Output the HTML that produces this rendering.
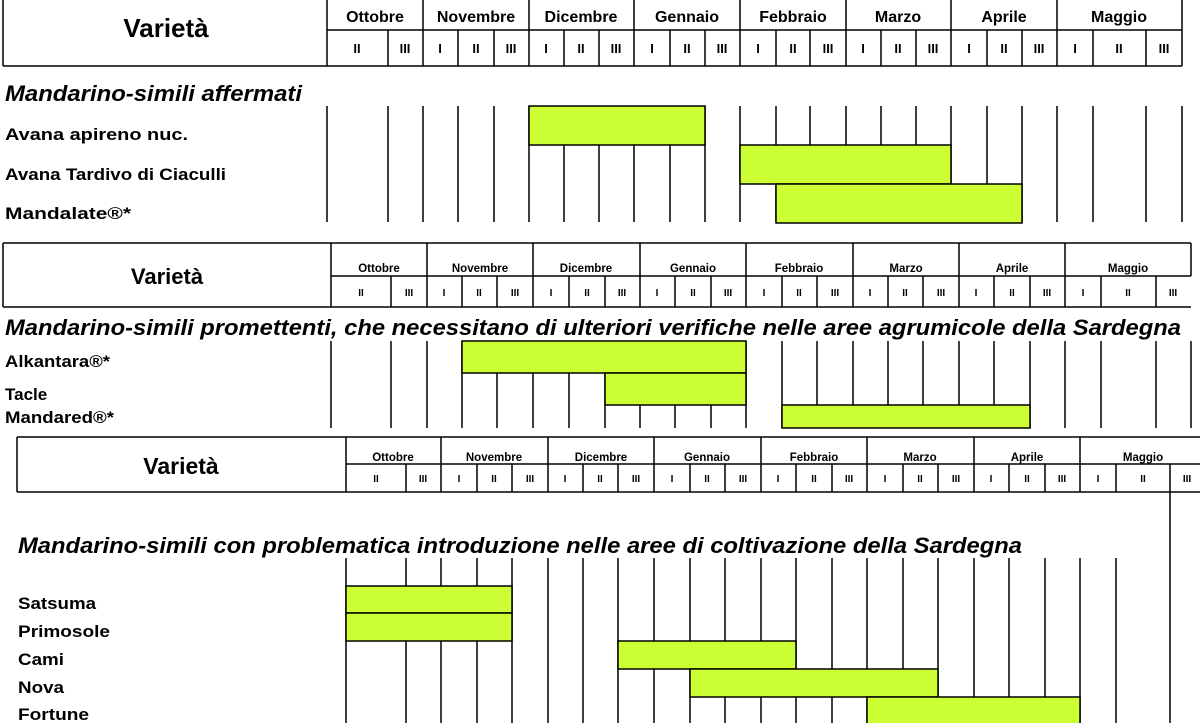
<!DOCTYPE html>
<html><head><meta charset="utf-8"><style>
html,body{margin:0;padding:0;background:#fff;width:1200px;height:723px;overflow:hidden}
svg{display:block;font-family:"Liberation Sans",Arial,sans-serif;font-weight:bold}
.m1{font-size:16px}.d1{font-size:13px}.m2{font-size:11.5px}.d2{font-size:10px}
.t{font-style:italic;font-size:22.5px}.l1{font-size:17px}.l{font-size:17px}
</style></head><body>
<svg width="1200" height="723" viewBox="0 0 1200 723" xmlns="http://www.w3.org/2000/svg">
<g stroke="#000" stroke-width="1.5" fill="none">
<path d="M3 0V66M3 66H1182M327 0V66M327 30H1182M1182 0V66
M423 0V66M529 0V66M634 0V66M740 0V66M846 0V66M951 0V66M1057 0V66
M388 30V66M458 30V66M494 30V66M564 30V66M599 30V66M670 30V66M705 30V66M776 30V66M810 30V66M881 30V66M916 30V66M987 30V66M1022 30V66M1093 30V66M1146 30V66"/>
<path d="M327 106V222M388 106V222M423 106V222M458 106V222M494 106V222M529 106V222M564 106V222M599 106V222M634 106V222M670 106V222M705 106V222M740 106V222M776 106V222M810 106V222M846 106V222M881 106V222M916 106V222M951 106V222M987 106V222M1022 106V222M1057 106V222M1093 106V222M1146 106V222M1182 106V222"/>
<path d="M3 243H1191M3 243V307M3 307H1191M331 243V307M331 276H1191M1191 243V276
M427 243V307M533 243V307M640 243V307M746 243V307M853 243V307M959 243V307M1065 243V307
M391 276V307M462 276V307M497 276V307M569 276V307M605 276V307M675 276V307M711 276V307M782 276V307M817 276V307M888 276V307M923 276V307M994 276V307M1030 276V307M1101 276V307M1156 276V307"/>
<path d="M331 341V428M391 341V428M427 341V428M462 341V428M497 341V428M533 341V428M569 341V428M605 341V428M640 341V428M675 341V428M711 341V428M746 341V428M782 341V428M817 341V428M853 341V428M888 341V428M923 341V428M959 341V428M994 341V428M1030 341V428M1065 341V428M1101 341V428M1156 341V428M1191 341V428"/>
<path d="M17 437H1200M17 437V492M17 492H1200M346 437V492M346 464H1200
M441 437V492M548 437V492M654 437V492M761 437V492M867 437V492M974 437V492M1080 437V492
M406 464V492M477 464V492M512 464V492M583 464V492M618 464V492M690 464V492M725 464V492M796 464V492M832 464V492M903 464V492M938 464V492M1009 464V492M1045 464V492M1116 464V492M1170 464V723"/>
<path d="M346 558V723M406 558V723M441 558V723M477 558V723M512 558V723M548 558V723M583 558V723M618 558V723M654 558V723M690 558V723M725 558V723M761 558V723M796 558V723M832 558V723M867 558V723M903 558V723M938 558V723M974 558V723M1009 558V723M1045 558V723M1080 558V723M1116 558V723"/>
</g>
<g fill="#ccff33" stroke="#000" stroke-width="1.5">
<rect x="529" y="106" width="176" height="39"/>
<rect x="740" y="145" width="211" height="39"/>
<rect x="776" y="184" width="246" height="39"/>
<rect x="462" y="341" width="284" height="32"/>
<rect x="605" y="373" width="141" height="32"/>
<rect x="782" y="405" width="248" height="23"/>
<rect x="346" y="586" width="166" height="27"/>
<rect x="346" y="613" width="166" height="28"/>
<rect x="618" y="641" width="178" height="28"/>
<rect x="690" y="669" width="248" height="28"/>
<rect x="867" y="697" width="213" height="30"/>
</g>
<text x="166" y="37" font-size="26" text-anchor="middle">Varietà</text>
<g class="m1" text-anchor="middle">
<text x="375" y="22">Ottobre</text><text x="476" y="22">Novembre</text><text x="581" y="22">Dicembre</text><text x="687" y="22">Gennaio</text><text x="793" y="22">Febbraio</text><text x="898" y="22">Marzo</text><text x="1004" y="22">Aprile</text><text x="1119" y="22">Maggio</text>
</g>
<g class="d1" text-anchor="middle">
<text x="357" y="53">II</text><text x="405" y="53">III</text><text x="440" y="53">I</text><text x="476" y="53">II</text><text x="511" y="53">III</text><text x="546" y="53">I</text><text x="581" y="53">II</text><text x="616" y="53">III</text><text x="652" y="53">I</text><text x="687" y="53">II</text><text x="722" y="53">III</text><text x="758" y="53">I</text><text x="793" y="53">II</text><text x="828" y="53">III</text><text x="863" y="53">I</text><text x="898" y="53">II</text><text x="933" y="53">III</text><text x="969" y="53">I</text><text x="1004" y="53">II</text><text x="1039" y="53">III</text><text x="1075" y="53">I</text><text x="1119" y="53">II</text><text x="1164" y="53">III</text>
</g>
<text class="t" x="5" y="101" textLength="297" lengthAdjust="spacingAndGlyphs">Mandarino-simili affermati</text>
<g class="l1">
<text x="5" y="140" textLength="183" lengthAdjust="spacingAndGlyphs">Avana apireno nuc.</text>
<text x="5" y="180" textLength="221" lengthAdjust="spacingAndGlyphs">Avana Tardivo di Ciaculli</text>
<text x="5" y="219" textLength="126" lengthAdjust="spacingAndGlyphs">Mandalate®*</text>
</g>
<text x="167" y="284" font-size="22" text-anchor="middle">Varietà</text>
<g class="m2" text-anchor="middle">
<text x="379" y="272">Ottobre</text><text x="480" y="272">Novembre</text><text x="586" y="272">Dicembre</text><text x="693" y="272">Gennaio</text><text x="799" y="272">Febbraio</text><text x="906" y="272">Marzo</text><text x="1012" y="272">Aprile</text><text x="1128" y="272">Maggio</text>
</g>
<g class="d2" text-anchor="middle">
<text x="361" y="296">II</text><text x="409" y="296">III</text><text x="444" y="296">I</text><text x="479" y="296">II</text><text x="515" y="296">III</text><text x="551" y="296">I</text><text x="587" y="296">II</text><text x="622" y="296">III</text><text x="657" y="296">I</text><text x="693" y="296">II</text><text x="728" y="296">III</text><text x="764" y="296">I</text><text x="799" y="296">II</text><text x="835" y="296">III</text><text x="870" y="296">I</text><text x="905" y="296">II</text><text x="941" y="296">III</text><text x="976" y="296">I</text><text x="1012" y="296">II</text><text x="1047" y="296">III</text><text x="1083" y="296">I</text><text x="1128" y="296">II</text><text x="1173" y="296">III</text>
</g>
<text class="t" x="5" y="335" textLength="1176" lengthAdjust="spacingAndGlyphs">Mandarino-simili promettenti, che necessitano di ulteriori verifiche nelle aree agrumicole della Sardegna</text>
<g class="l">
<text x="5" y="367" textLength="105" lengthAdjust="spacingAndGlyphs">Alkantara®*</text>
<text x="5" y="400">Tacle</text>
<text x="5" y="423" textLength="109" lengthAdjust="spacingAndGlyphs">Mandared®*</text>
</g>
<text x="181" y="474" font-size="23" text-anchor="middle">Varietà</text>
<g class="m2" text-anchor="middle">
<text x="393" y="461">Ottobre</text><text x="494" y="461">Novembre</text><text x="601" y="461">Dicembre</text><text x="707" y="461">Gennaio</text><text x="814" y="461">Febbraio</text><text x="920" y="461">Marzo</text><text x="1027" y="461">Aprile</text><text x="1143" y="461">Maggio</text>
</g>
<g class="d2" text-anchor="middle">
<text x="376" y="482">II</text><text x="423" y="482">III</text><text x="459" y="482">I</text><text x="494" y="482">II</text><text x="530" y="482">III</text><text x="565" y="482">I</text><text x="600" y="482">II</text><text x="636" y="482">III</text><text x="672" y="482">I</text><text x="707" y="482">II</text><text x="743" y="482">III</text><text x="778" y="482">I</text><text x="814" y="482">II</text><text x="849" y="482">III</text><text x="885" y="482">I</text><text x="920" y="482">II</text><text x="956" y="482">III</text><text x="991" y="482">I</text><text x="1027" y="482">II</text><text x="1062" y="482">III</text><text x="1098" y="482">I</text><text x="1143" y="482">II</text><text x="1187" y="482">III</text>
</g>
<text class="t" x="18" y="553" textLength="1004" lengthAdjust="spacingAndGlyphs">Mandarino-simili con problematica introduzione nelle aree di coltivazione della Sardegna</text>
<g class="l">
<text x="18" y="609" textLength="78" lengthAdjust="spacingAndGlyphs">Satsuma</text>
<text x="18" y="637" textLength="92" lengthAdjust="spacingAndGlyphs">Primosole</text>
<text x="18" y="665" textLength="46" lengthAdjust="spacingAndGlyphs">Cami</text>
<text x="18" y="693" textLength="46" lengthAdjust="spacingAndGlyphs">Nova</text>
<text x="18" y="720" textLength="71" lengthAdjust="spacingAndGlyphs">Fortune</text>
</g>
</svg>
</body></html>
